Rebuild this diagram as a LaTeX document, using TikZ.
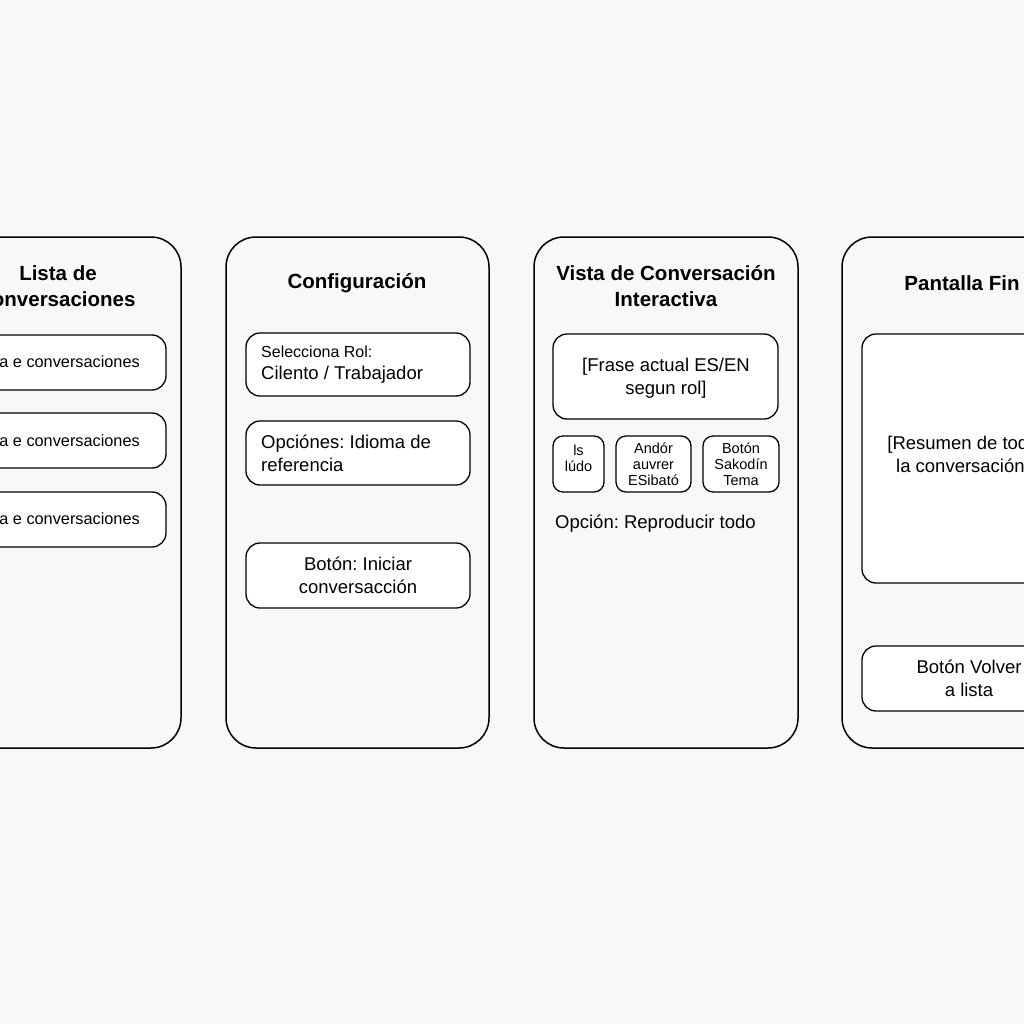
\documentclass[tikz,border=0pt]{standalone}
\usepackage{fontspec}
\setmainfont{Liberation Sans}
\frenchspacing
\definecolor{paper}{HTML}{F8F8F8}
\tikzset{
  panel/.style={draw=black, line width=1.5pt, rounded corners=30pt, fill=paper},
  field/.style={draw=black, line width=1.3pt, rounded corners=14pt, fill=white},
  chip/.style={draw=black, line width=1.3pt, rounded corners=10pt, fill=white},
  title/.style={font=\fontsize{20.5}{26}\selectfont\bfseries, align=center, inner sep=0pt},
  label/.style={font=\fontsize{18.5}{23}\selectfont, align=center, inner sep=0pt},
  item/.style={font=\fontsize{16.3}{20}\selectfont, inner sep=0pt},
  small/.style={font=\fontsize{16}{20}\selectfont, inner sep=0pt},
  tiny/.style={font=\fontsize{14.5}{16}\selectfont, align=center, inner sep=0pt},
}
\begin{document}
\begin{tikzpicture}[x=1pt,y=-1pt]
  \useasboundingbox (0,0) rectangle (1024,1024);
  \fill[paper] (0,0) rectangle (1024,1024);
  \clip (0,0) rectangle (1024,1024);

  % lista de conversaciones
  \draw[panel] (-82,237) rectangle (181,748);
  \node[title] (listaT) at (58,286) {Lista de\\conversaciones};
  \draw[field] (-67,335) rectangle (166,390);
  \draw[field] (-67,413) rectangle (166,468);
  \draw[field] (-67,492) rectangle (166,547);
  \node[item, anchor=east] (conv1) at (140,362) {a e conversaciones};
  \node[item, anchor=east] (conv2) at (140,441) {a e conversaciones};
  \node[item, anchor=east] (conv3) at (140,519) {a e conversaciones};

  % configuracion
  \draw[panel] (226,237) rectangle (489,748);
  \node[title] (configT) at (357,283) {Configuración};
  \draw[field] (246,333) rectangle (470,396);
  \node[small, anchor=west] (rolA) at (261,352) {Selecciona Rol:};
  \node[label, anchor=west] (rolB) at (261,375) {Cilento / Trabajador};
  \draw[field] (246,421) rectangle (470,485);
  \node[label, align=left, anchor=west] (idioma) at (261,453) {Opciónes: Idioma de\\referencia};
  \draw[field] (246,543) rectangle (470,608);
  \node[label] (iniciar) at (358,575) {Botón: Iniciar\\conversacción};

  % vista de conversacion
  \draw[panel] (534,237) rectangle (798,748);
  \node[title] (vistaT) at (666,286) {Vista de Conversación\\Interactiva};
  \draw[field] (553,334) rectangle (778,419);
  \node[label] (frase) at (666,378) {[Frase actual ES/EN\\segun rol]};
  \draw[chip] (553,436) rectangle (604,492);
  \draw[chip] (616,436) rectangle (691,492);
  \draw[chip] (703,436) rectangle (779,492);
  \node[tiny] (chipA) at (578.5,458) {ls\\lúdo};
  \node[tiny] (chipB) at (653.5,464) {Andór\\auvrer\\ESibató};
  \node[tiny] (chipC) at (741,464) {Botón\\Sakodín\\Tema};
  \node[label, anchor=west] (todo) at (555,524) {Opción: Reproducir todo};

  % pantalla fin
  \draw[panel] (842,237) rectangle (1106,748);
  \node[title] (finT) at (962,283) {Pantalla Fin};
  \draw[field] (862,334) rectangle (1087,583);
  \node[label] (resumen) at (963,456) {[Resumen de toda\\la conversación]};
  \draw[field] (862,646) rectangle (1087,711);
  \node[label] (volver) at (969,678) {Botón Volver\\a lista};
\end{tikzpicture}
\end{document}
